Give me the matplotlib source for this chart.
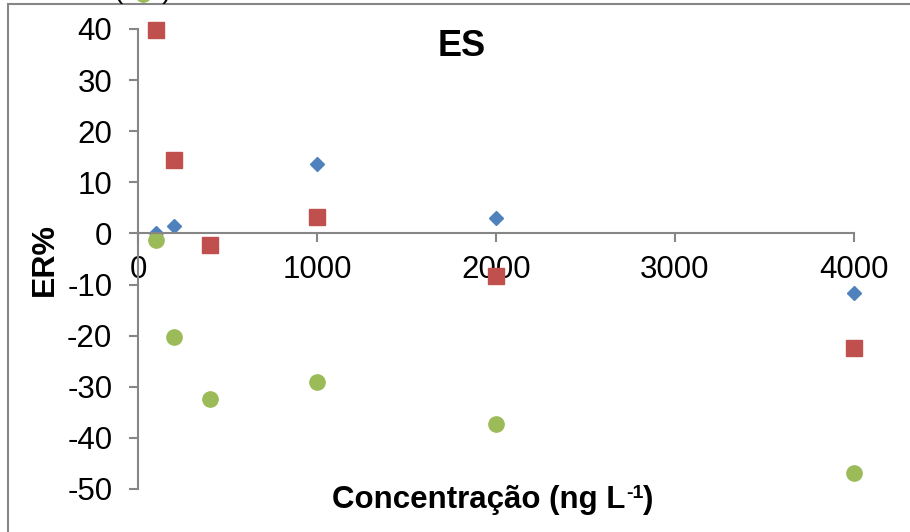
"""Scatter of ER% vs concentration (ES)."""

import matplotlib.pyplot as plt
from matplotlib.patches import Rectangle
from matplotlib.lines import Line2D

plt.rcParams["font.family"] = ["Liberation Sans", "DejaVu Sans"]
plt.rcParams["axes.unicode_minus"] = False

# Data
conc_blue = [100, 200, 1000, 2000, 4000]
er_blue = [0.1, 1.5, 13.6, 3.1, -11.7]

conc_red = [100, 200, 400, 1000, 2000, 4000]
er_red = [39.8, 14.3, -2.3, 3.2, -8.3, -22.4]

conc_green = [100, 200, 400, 1000, 2000, 4000]
er_green = [-1.2, -20.2, -32.4, -29.1, -37.2, -46.9]

x_ticks = [0, 1000, 2000, 3000, 4000]
y_ticks = [40, 30, 20, 10, 0, -10, -20, -30, -40, -50]

gray = "#868686"

fig = plt.figure(figsize=(9.10, 5.32), dpi=100)
ax = fig.add_axes([138 / 910, 1 - 489 / 532, (854 - 138) / 910, 460 / 532])

ax.plot(conc_blue, er_blue, linestyle="none", marker="D", markersize=7.5,
        color="#4F81BD", clip_on=False)
ax.plot(conc_red, er_red, linestyle="none", marker="s", markersize=11,
        color="#C0504D", clip_on=False)
ax.plot(conc_green, er_green, linestyle="none", marker="o", markersize=11,
        color="#9BBB59", clip_on=False)

ax.set_xlim(0, 4000)
ax.set_ylim(-50, 40)
ax.set_xticks(x_ticks)
ax.set_yticks(y_ticks)

ax.spines["top"].set_visible(False)
ax.spines["right"].set_visible(False)
ax.spines["bottom"].set_position(("data", 0))
for side in ["left", "bottom"]:
    ax.spines[side].set_color(gray)
    ax.spines[side].set_linewidth(1.5)

ax.tick_params(axis="both", direction="out", length=6.5, width=1.5, color=gray,
               labelsize=22.5, labelcolor="black")
ax.tick_params(axis="x", pad=9)
ax.tick_params(axis="y", pad=12)

ax.set_ylabel("ER%", fontsize=23, fontweight="bold", labelpad=5)

# x label with a small superscript "-1"
xl = fig.text(332 / 910, 1 - 508 / 532, "Concentração (ng L", fontsize=22.5,
              fontweight="bold", ha="left", va="baseline")
sup = ax.annotate("-1", xy=(1, 1), xycoords=xl, xytext=(0.5, 0),
                  textcoords="offset points", fontsize=14, fontweight="bold",
                  ha="left", va="top", annotation_clip=False)
ax.annotate(")", xy=(1, 0), xycoords=(sup, xl), xytext=(0, 0),
            textcoords="offset points", fontsize=22.5, fontweight="bold",
            ha="left", va="bottom", annotation_clip=False)

ax.text(462 / 910, 1 - 47 / 532, "ES", transform=fig.transFigure,
        fontsize=26, fontweight="bold", ha="center", va="center")

# Outer chart frame (extends past the right and bottom edges)
fig.patches.append(Rectangle((8 / 910, -0.05), 1.0, 1 - 4 / 532 + 0.05,
                             transform=fig.transFigure, fill=False,
                             edgecolor=gray, linewidth=1.5))

# Partly cut-off panel label at the very top
fig.text(143 / 910, 1 + 9 / 532, "(     )", fontsize=20, ha="center",
         va="center", color="black")
fig.lines.append(Line2D([143 / 910], [1 + 6 / 532], transform=fig.transFigure,
                        marker="o", markersize=11, color="#9BBB59"))

fig.savefig("out.png", dpi=100)
